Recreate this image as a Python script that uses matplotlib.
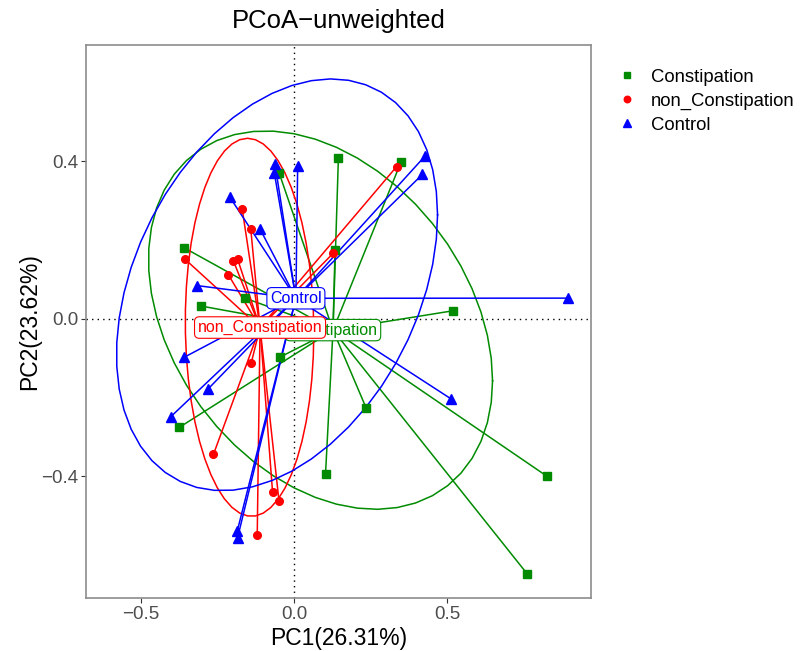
import numpy as np
import matplotlib
matplotlib.use("Agg")
import matplotlib.pyplot as plt
from matplotlib.lines import Line2D

plt.rcParams['font.family'] = ['Liberation Sans', 'DejaVu Sans']

# PCoA coordinates per group
constipation_pc1 = [0.145, -0.049, -0.359, 0.134, -0.160, -0.304, 0.349, 0.520,
                    -0.046, -0.374, 0.103, 0.235, 0.827, 0.762]
constipation_pc2 = [0.410, 0.372, 0.181, 0.175, 0.053, 0.033, 0.398, 0.021,
                    -0.097, -0.275, -0.393, -0.225, -0.400, -0.648]

non_constipation_pc1 = [-0.169, -0.141, -0.356, -0.198, -0.184, -0.214, 0.128, 0.335,
                        -0.140, -0.263, -0.070, -0.049, -0.120]
non_constipation_pc2 = [0.279, 0.228, 0.152, 0.148, 0.152, 0.112, 0.167, 0.387,
                        -0.113, -0.344, -0.439, -0.462, -0.549]

control_pc1 = [-0.062, -0.064, 0.012, -0.209, -0.111, -0.318, 0.428, 0.419, 0.896,
               -0.358, -0.282, -0.402, -0.185, -0.184, 0.513]
control_pc2 = [0.393, 0.370, 0.389, 0.309, 0.229, 0.085, 0.414, 0.367, 0.053,
               -0.097, -0.179, -0.248, -0.538, -0.555, -0.203]

group_names = ['Constipation', 'non_Constipation', 'Control']
group_colors = ['#008B00', '#FF0000', '#0000FF']
group_markers = ['s', 'o', '^']
group_msize = [5.5, 5.5, 6.5]

pc1_label = 'PC1(26.31%)'
pc2_label = 'PC2(23.62%)'

ELLIPSE_LEVEL = 0.72


def cov_trob(x, nu=5, maxit=25, tol=0.01):
    """Robust multivariate-t location/scatter estimate."""
    n, p = x.shape
    loc = x.mean(axis=0)
    w = np.ones(n)
    X = x - loc
    for _ in range(maxit):
        w0 = w
        X = x - loc
        A = np.sqrt(w / w.sum())[:, None] * X
        _, d, vt = np.linalg.svd(A, full_matrices=False)
        wX = (X @ vt.T) / d
        Q = (wX ** 2).sum(axis=1)
        w = (nu + p) / (nu + Q)
        loc = (w[:, None] * x).sum(axis=0) / w.sum()
        if np.all(np.abs(w - w0) < tol):
            break
    sX = np.sqrt(w)[:, None] * X
    cov = sX.T @ sX / n
    return loc, cov


def ellipse_path(x, y, level=ELLIPSE_LEVEL, segments=51):
    pts = np.column_stack([x, y])
    n = len(pts)
    center, cov = cov_trob(pts)
    dfd = n - 1
    # F(2, dfd) quantile has a closed form
    fq = dfd / 2.0 * ((1 - level) ** (-2.0 / dfd) - 1)
    radius = np.sqrt(2 * fq)
    chol = np.linalg.cholesky(cov).T  # upper triangular
    ang = np.linspace(0, 2 * np.pi, segments + 1)
    circle = np.column_stack([np.cos(ang), np.sin(ang)])
    ell = center + radius * (circle @ chol)
    return ell[:, 0], ell[:, 1]


fig = plt.figure(figsize=(8, 6.51), dpi=100)
ax = fig.add_axes([0.1075, 0.0814, 0.63125, 0.8495])

groups = [
    (constipation_pc1, constipation_pc2),
    (non_constipation_pc1, non_constipation_pc2),
    (control_pc1, control_pc2),
]

ax.axhline(0, color='black', ls=(0, (1, 3)), lw=1.0, zorder=1)
ax.axvline(0, color='black', ls=(0, (1, 3)), lw=1.0, zorder=1)

centroids = []
for (px, py), name, col, mk, ms in zip(groups, group_names, group_colors,
                                       group_markers, group_msize):
    px = np.asarray(px)
    py = np.asarray(py)
    cx, cy = px.mean(), py.mean()
    centroids.append((cx, cy))
    for xi, yi in zip(px, py):
        ax.plot([cx, xi], [cy, yi], color=col, lw=1.1, zorder=2)
    ax.plot(px, py, ls='none', marker=mk, ms=ms, color=col, mec=col, zorder=3)
    ex, ey = ellipse_path(px, py)
    ax.plot(ex, ey, color=col, lw=1.1, zorder=2)

# group labels at centroids
for i in [0, 2, 1]:
    cx, cy = centroids[i]
    ax.text(cx, cy, group_names[i], color=group_colors[i], fontsize=11.5,
            ha='center', va='center', zorder=5,
            bbox=dict(boxstyle='round,pad=0.2,rounding_size=0.3', fc='white',
                      ec=group_colors[i], lw=0.8))

ax.set_xlim(-0.679, 0.9696)
ax.set_ylim(-0.7086, 0.6959)
ax.set_xticks([-0.5, 0.0, 0.5])
ax.set_yticks([-0.4, 0.0, 0.4])
ax.tick_params(direction='out', length=3.5, width=0.8, color='#333333',
               labelcolor='#4D4D4D', labelsize=13.5, pad=2)
for sp in ax.spines.values():
    sp.set_color('#8C8C8C')
    sp.set_linewidth(1.2)

ax.set_xlabel(pc1_label, fontsize=16.5, labelpad=3)
ax.set_ylabel(pc2_label, fontsize=16.5, labelpad=0)
ax.set_title('PCoA\u2212unweighted', fontsize=18.5, pad=12)

handles = [Line2D([], [], ls='none', marker=m, color=c, ms=s * 0.85)
           for m, c, s in zip(group_markers, group_colors, group_msize)]
fig.legend(handles, group_names, loc='upper left', bbox_to_anchor=(0.751, 0.92),
           frameon=False, fontsize=13.3, handletextpad=0.8, labelspacing=0.38,
           handlelength=1.0)

fig.savefig('out.png', dpi=100)
